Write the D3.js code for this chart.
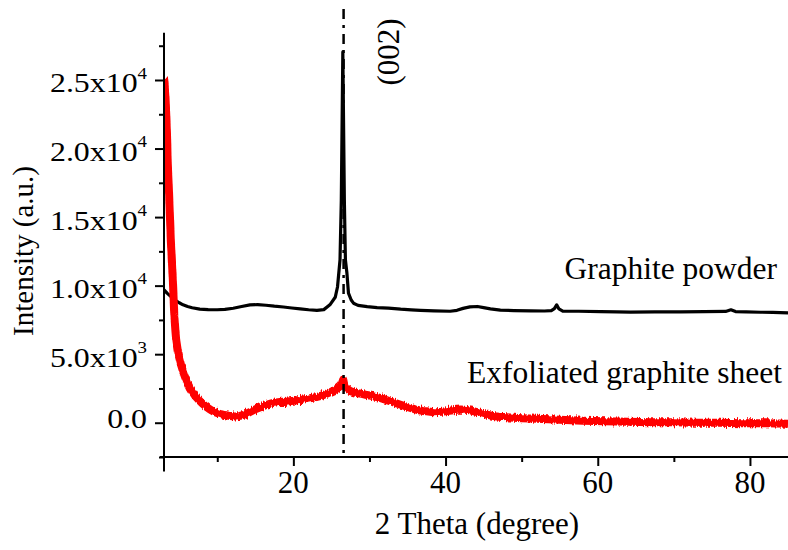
<!DOCTYPE html>
<html>
<head>
<meta charset="utf-8">
<script src="https://cdn.jsdelivr.net/npm/d3@7/dist/d3.min.js"></script>
<style>
  html, body { margin: 0; padding: 0; background: #fff; }
  svg { display: block; }
  text { font-family: "Liberation Serif", "Times New Roman", serif; fill: #000; }
</style>
</head>
<body>
<script>
// XRD patterns: 2θ (degree) vs intensity (a.u.)
const powderTheta = [3.0, 3.4, 3.8, 4.2, 4.6, 5.0, 5.5, 6.1, 6.7, 7.7, 8.8, 10.0, 11.0, 12.1, 13.2, 14.3, 15.3, 16.4, 17.5, 18.7, 19.8, 20.9, 22.0, 23.1, 24.0, 24.8, 25.5, 25.8, 26.13, 26.3, 26.5, 26.7, 26.84, 27.04, 27.24, 27.6, 27.9, 28.5, 29.7, 31.0, 32.5, 34.1, 35.5, 36.7, 38.5, 40.6, 41.5, 42.3, 43.2, 44.2, 45.0, 45.9, 47.2, 49.0, 51.2, 53.0, 53.9, 54.3, 54.6, 54.9, 55.4, 57.5, 60.4, 62.5, 64.3, 67.5, 70.9, 74.0, 76.8, 77.5, 78.1, 79.5, 81.4, 83.0, 85.0];
const powderIntensity = [9700, 9450, 9250, 9050, 8890, 8750, 8600, 8480, 8390, 8290, 8250, 8240, 8270, 8350, 8480, 8600, 8610, 8570, 8500, 8440, 8370, 8310, 8240, 8190, 8250, 8600, 9150, 9900, 11880, 16250, 27050, 16250, 11880, 10900, 9450, 8950, 8720, 8560, 8470, 8400, 8360, 8280, 8230, 8200, 8160, 8130, 8200, 8340, 8450, 8480, 8400, 8310, 8210, 8180, 8160, 8150, 8180, 8320, 8600, 8300, 8140, 8130, 8100, 8090, 8070, 8080, 8090, 8100, 8120, 8240, 8110, 8090, 8060, 8050, 8020];

const sheetTheta = [3.0, 3.1, 3.2, 3.3, 3.4, 3.5, 3.6, 3.7, 3.8, 3.9, 4.0, 4.1, 4.2, 4.35, 4.5, 4.6, 4.8, 5.0, 5.25, 5.5, 5.75, 6.0, 6.35, 6.7, 7.1, 7.5, 8.0, 8.5, 9.0, 9.5, 10.0, 10.5, 11.0, 11.5, 12.0, 12.5, 13.0, 13.5, 14.0, 14.5, 15.0, 15.5, 16.0, 16.5, 17.0, 17.5, 18.0, 18.5, 19.0, 19.5, 20.0, 20.5, 21.0, 21.5, 22.0, 22.5, 23.0, 23.5, 24.0, 24.5, 25.0, 25.5, 25.9, 26.2, 26.4, 26.55, 26.7, 26.9, 27.2, 27.5, 28.0, 28.5, 29.0, 29.5, 30.0, 30.5, 31.0, 31.5, 32.0, 32.5, 33.0, 33.5, 34.0, 34.5, 35.0, 35.5, 36.0, 36.5, 37.0, 37.5, 38.0, 38.5, 39.0, 39.5, 40.0, 40.5, 41.0, 41.5, 42.0, 42.5, 43.0, 43.5, 44.0, 44.5, 45.0, 45.5, 46.0, 46.5, 47.0, 48.0, 49.0, 50.0, 51.0, 52.0, 53.5, 55.0, 56.5, 58.0, 59.5, 61.0, 62.5, 64.0, 65.5, 67.0, 68.5, 70.0, 71.5, 73.0, 74.5, 76.0, 77.5, 79.0, 80.5, 82.0, 83.5, 85.0];
const sheetIntensity = [25150, 24500, 23700, 22400, 21000, 18800, 17600, 16200, 14800, 13300, 12200, 11100, 9900, 7900, 6700, 6050, 5300, 4750, 4200, 3750, 3350, 3000, 2600, 2280, 1950, 1700, 1420, 1180, 980, 820, 700, 620, 560, 510, 470, 460, 500, 580, 700, 840, 980, 1090, 1200, 1310, 1390, 1460, 1500, 1530, 1520, 1570, 1600, 1640, 1660, 1710, 1760, 1820, 1870, 1940, 2030, 2150, 2270, 2400, 2560, 2700, 2900, 3150, 2750, 2560, 2420, 2300, 2220, 2150, 2100, 2040, 1990, 1930, 1860, 1790, 1700, 1600, 1510, 1420, 1330, 1240, 1150, 1060, 980, 910, 860, 830, 800, 770, 780, 800, 830, 870, 910, 950, 960, 950, 920, 870, 800, 730, 650, 580, 520, 470, 440, 400, 360, 330, 310, 290, 250, 220, 180, 150, 130, 110, 90, 70, 55, 40, 40, 35, 20, 0, 5, 0, -15, -35, -30, -40, -55, -75];

const peakPosition = 26.6;
const peakLabel = "(002)";
const seriesNames = ["Graphite powder", "Exfoliated graphite sheet"];

const xMajorTicks = [20, 40, 60, 80];
const xMinorTicks = [10, 30, 50, 70];
const yMajorTicks = [0, 5000, 10000, 15000, 20000, 25000];
const yMinorTicks = [-2500, 2500, 7500, 12500, 17500, 22500, 27500];
const yTickMantissa = ["0.0", "5.0x10", "1.0x10", "1.5x10", "2.0x10", "2.5x10"];
const yTickExponent = ["", "3", "4", "4", "4", "4"];

const W = 788, H = 550;
const svg = d3.select("body").append("svg").attr("width", W).attr("height", H);

const x = d3.scaleLinear().domain([3, 85]).range([164, 788]);
const y = d3.scaleLinear().domain([-2500, 28450]).range([457, 32.7]);

const defs = svg.append("defs");

// plot-area clip so traces stay right of the y axis
defs.append("clipPath").attr("id", "plotClip").append("rect")
  .attr("x", x(3)).attr("y", 0).attr("width", x(85) - x(3)).attr("height", y(-2500));

// vertical-only jitter for the noisy exfoliated-sheet trace
const f = defs.append("filter").attr("id", "rough")
  .attr("x", "-5%").attr("y", "-5%").attr("width", "110%").attr("height", "110%");
f.append("feTurbulence").attr("type", "fractalNoise").attr("baseFrequency", "0.9 0.08")
  .attr("numOctaves", 2).attr("seed", 3).attr("result", "n");
f.append("feColorMatrix").attr("in", "n").attr("type", "matrix")
  .attr("values", "0 0 0 0 0.5  0 1 0 0 0  0 0 1 0 0  0 0 0 0 1").attr("result", "ny");
f.append("feDisplacementMap").attr("in", "SourceGraphic").attr("in2", "ny")
  .attr("scale", 6).attr("xChannelSelector", "R").attr("yChannelSelector", "G");

const line = d3.line().x(d => x(d[0])).y(d => y(d[1]));

const powder = d3.zip(powderTheta, powderIntensity);
const sheet = d3.zip(sheetTheta, sheetIntensity);

const plot = svg.append("g").attr("clip-path", "url(#plotClip)");

plot.append("path").datum(powder).attr("d", line)
  .attr("fill", "none").attr("stroke", "#000").attr("stroke-width", 3.2)
  .attr("stroke-linejoin", "round");

plot.append("g").attr("filter", "url(#rough)")
  .append("path").datum(sheet).attr("d", line)
  .attr("fill", "none").attr("stroke", "#ff0000").attr("stroke-width", 8)
  .attr("stroke-linejoin", "round");

// dash-dot marker at the (002) reflection
svg.append("line")
  .attr("x1", x(peakPosition)).attr("x2", x(peakPosition))
  .attr("y1", 9).attr("y2", y(-2500))
  .attr("stroke", "#000").attr("stroke-width", 2.5)
  .attr("stroke-dasharray", "10,6,3,6");

// axes
const axisG = svg.append("g").attr("stroke", "#000").attr("stroke-width", 2);
axisG.append("line").attr("x1", x(3)).attr("x2", x(3)).attr("y1", y.range()[1]).attr("y2", 471.5);
axisG.append("line").attr("x1", 160).attr("x2", x(85)).attr("y1", y(-2500)).attr("y2", y(-2500));

const xAxisMajor = d3.axisBottom(x).tickValues(xMajorTicks).tickSize(9).tickFormat("");
const xAxisMinor = d3.axisBottom(x).tickValues(xMinorTicks).tickSize(5).tickFormat("");
const yAxisMajor = d3.axisLeft(y).tickValues(yMajorTicks).tickSize(9).tickFormat("");
const yAxisMinor = d3.axisLeft(y).tickValues(yMinorTicks).tickSize(5).tickFormat("");

function styleAxis(g) {
  g.select(".domain").remove();
  g.selectAll(".tick line").attr("stroke", "#000").attr("stroke-width", 2);
}
svg.append("g").attr("transform", `translate(0,${y(-2500)})`).call(xAxisMajor).call(styleAxis);
svg.append("g").attr("transform", `translate(0,${y(-2500)})`).call(xAxisMinor).call(styleAxis);
svg.append("g").attr("transform", `translate(${x(3)},0)`).call(yAxisMajor).call(styleAxis);
svg.append("g").attr("transform", `translate(${x(3)},0)`).call(yAxisMinor).call(styleAxis);

// x tick labels
svg.append("g").selectAll("text").data(xMajorTicks).join("text")
  .attr("x", d => x(d)).attr("y", 493)
  .attr("text-anchor", "middle").attr("font-size", 31)
  .text(d => d);

// y tick labels (mantissa x 10 with superscript exponent)
const yl = svg.append("g").selectAll("text").data(yMajorTicks).join("text")
  .attr("transform", (d, i) => `translate(147,${y(d) + (yTickExponent[i] ? 12.5 : 5)}) scale(1.18,1)`)
  .attr("text-anchor", "end").attr("font-size", 27);
yl.append("tspan").text((d, i) => yTickMantissa[i]);
yl.filter((d, i) => yTickExponent[i] !== "").append("tspan")
  .attr("font-size", 16).attr("dy", -14)
  .text(d => yTickExponent[yMajorTicks.indexOf(d)]);

// axis titles
svg.append("text").attr("x", 477).attr("y", 534).attr("text-anchor", "middle")
  .attr("font-size", 31).text("2 Theta (degree)");
svg.append("text").attr("transform", "translate(33,251) rotate(-90)")
  .attr("text-anchor", "middle").attr("font-size", 29).text("Intensity (a.u.)");

// annotations
svg.append("text").attr("transform", "translate(399,52) rotate(-90)")
  .attr("text-anchor", "middle").attr("font-size", 31).text(peakLabel);
svg.append("text").attr("x", 777).attr("y", 279).attr("text-anchor", "end")
  .attr("font-size", 31.5).text(seriesNames[0]);
svg.append("text").attr("x", 782).attr("y", 383).attr("text-anchor", "end")
  .attr("font-size", 31.5).text(seriesNames[1]);
</script>
</body>
</html>
